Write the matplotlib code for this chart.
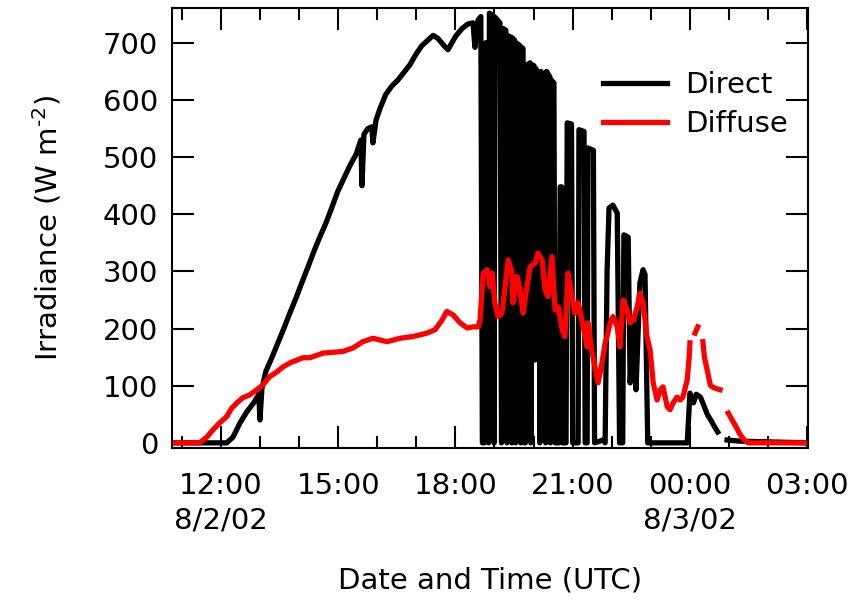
import numpy as np
import matplotlib
matplotlib.use("Agg")
import matplotlib.pyplot as plt

nan = np.nan

# time in decimal hours since 00:00 UTC on 8/2/02 (24 = 00:00 on 8/3/02)
direct_time = [10.75, 12.15, 12.31, 12.49, 12.67, 12.84, 12.97, 13.00, 13.05, 13.15,
               13.31, 13.46, 13.61, 13.77, 13.92, 14.07, 14.23, 14.38, 14.53, 14.69,
               14.84, 14.99, 15.15, 15.30, 15.46, 15.58, 15.61, 15.66, 15.76, 15.86,
               15.89, 15.97, 16.07, 16.22, 16.38, 16.53, 16.68, 16.84, 16.99, 17.14,
               17.30, 17.43, 17.55, 17.71, 17.81, 17.91, 18.01, 18.17, 18.32, 18.45,
               18.50, 18.58, 18.65, 18.69, 18.74, 18.77, 18.82, 18.85, 18.87, 18.96,
               18.99, 19.01, 19.14, 19.18, 19.23, 19.29, 19.32, 19.35, 19.42, 19.44,
               19.45, 19.51, 19.54, 19.56, 19.65, 19.67, 19.69, 19.73, 19.76, 19.79,
               19.82, 19.91, 19.93, 19.95, 20.01, 20.04, 20.06, 20.14, 20.16, 20.19,
               20.28, 20.31, 20.33, 20.42, 20.43, 20.45, 20.52, 20.55, 20.65, 20.68,
               20.72, 20.74, 20.83, 20.86, 20.97, 21.00, 21.14, 21.16, 21.29, 21.32,
               21.37, 21.39, 21.53, 21.56, 21.78, 21.83, 21.88, 21.93, 22.03, 22.14,
               22.20, 22.28, 22.31, 22.42, 22.47, 22.55, 22.62, 22.72, 22.80, 22.85,
               22.92, 23.93, 24.00, 24.09, 24.16, 24.27, 24.37, 24.45, 24.55, 24.63,
               24.71, 24.75, 24.95, 25.28, 27.02]
direct_vals = [0, 0, 10, 35, 55, 70, 85, 40, 95, 125,
               150, 175, 200, 228, 253, 280, 308, 335, 360, 385,
               412, 440, 463, 485, 505, 530, 450, 540, 550, 553,
               525, 565, 585, 610, 625, 635, 648, 662, 680, 695,
               705, 713, 708, 695, 688, 700, 712, 725, 733, 735,
               692, 740, 746, 0, 0, 700, 700, 0, 752, 748,
               0, 745, 735, 0, 725, 722, 0, 712, 710, 0,
               709, 705, 0, 700, 695, 0, 692, 690, 0, 0,
               661, 665, 0, 662, 660, 145, 655, 640, 0, 650,
               630, 0, 650, 640, 0, 635, 630, 0, 0, 448,
               448, 0, 0, 560, 558, 0, 0, 548, 545, 0,
               0, 516, 512, 0, 5, 0, 300, 411, 416, 402,
               0, 0, 364, 360, 105, 210, 93, 280, 303, 295,
               0, 0, 87, 70, 85, 80, 63, 49, 38, 28,
               19, nan, 5, 3, 0]

diffuse_time = [10.75, 11.46, 11.64, 11.80, 11.97, 12.15, 12.28, 12.41, 12.56, 12.74,
                12.92, 13.07, 13.25, 13.43, 13.59, 13.77, 13.95, 14.10, 14.28, 14.61,
                15.12, 15.38, 15.63, 15.89, 16.25, 16.58, 16.91, 17.27, 17.48, 17.66,
                17.78, 17.94, 18.12, 18.30, 18.45, 18.58, 18.63, 18.71, 18.81, 18.89,
                18.94, 19.01, 19.09, 19.19, 19.27, 19.35, 19.45, 19.47, 19.58, 19.65,
                19.73, 19.83, 19.91, 20.04, 20.11, 20.22, 20.29, 20.37, 20.47, 20.55,
                20.63, 20.73, 20.80, 20.88, 20.98, 21.06, 21.14, 21.27, 21.37, 21.39,
                21.50, 21.57, 21.65, 21.75, 21.83, 21.88, 21.96, 22.03, 22.14, 22.21,
                22.29, 22.39, 22.47, 22.55, 22.65, 22.72, 22.80, 22.90, 22.98, 23.06,
                23.16, 23.24, 23.31, 23.42, 23.49, 23.57, 23.67, 23.75, 23.82, 23.93,
                23.98, 24.00, 24.05, 24.13, 24.20, 24.24, 24.33, 24.37, 24.44, 24.52,
                24.57, 24.67, 24.77, 24.85, 24.98, 25.08, 25.18, 25.28, 25.39, 25.49,
                27.02]
diffuse_vals = [0, 0, 10, 23, 35, 46, 61, 70, 79, 84,
                93, 101, 116, 124, 133, 140, 145, 149, 149, 157,
                160, 166, 177, 183, 177, 183, 186, 192, 198, 215,
                230, 224, 210, 201, 203, 203, 215, 297, 303, 273,
                297, 245, 221, 227, 273, 320, 297, 245, 291, 268,
                227, 273, 308, 315, 332, 320, 268, 256, 326, 233,
                238, 198, 186, 297, 256, 227, 245, 203, 168, 210,
                157, 133, 105, 140, 175, 186, 210, 221, 203, 168,
                250, 233, 210, 215, 238, 262, 245, 186, 163, 105,
                75, 93, 98, 63, 58, 70, 80, 75, 80, 110,
                150, 175, nan, 192, 203, nan, 177, 150, 128, 101,
                98, 95, 93, nan, 52, 40, 28, 15, 5, 0,
                0]

xtick_pos = [12, 15, 18, 21, 24, 27]
xtick_labels = ["12:00\n8/2/02", "15:00", "18:00", "21:00", "00:00\n8/3/02", "03:00"]
ytick_pos = [0, 100, 200, 300, 400, 500, 600, 700]

plt.rcParams['font.family'] = ['DejaVu Sans']
plt.rcParams['mathtext.fontset'] = 'dejavusans'
FS = 21

W, H = 865, 609
fig = plt.figure(figsize=(W / 100, H / 100), dpi=100)
ax = fig.add_axes([172 / W, 1 - 448 / H, 636 / W, 440 / H])

ax.plot(direct_time, direct_vals, color='black', lw=3.8, label='Direct')
ax.plot(diffuse_time, diffuse_vals, color='red', lw=3.8, label='Diffuse')

ax.set_xlim(10.75, 27.02)
ax.set_ylim(-9, 761)

ax.set_xticks(xtick_pos)
ax.set_xticklabels(xtick_labels, fontsize=FS, linespacing=1.3)
ax.set_xticks(np.arange(11, 28, 1), minor=True)
ax.set_yticks(ytick_pos)
ax.set_yticklabels([str(v) for v in ytick_pos], fontsize=FS)

ax.tick_params(axis='both', which='major', direction='in', length=15.5, width=1.5,
               top=True, right=True)
ax.tick_params(axis='x', which='minor', direction='in', length=8.5, width=1.5,
               top=True, bottom=True)
ax.tick_params(axis='x', which='major', pad=17)
ax.tick_params(axis='y', which='major', pad=10)
for s in ax.spines.values():
    s.set_linewidth(1.5)

fig.text(490 / W, 1 - 580 / H, "Date and Time (UTC)", fontsize=FS,
         ha='center', va='center')
fig.text(47 / W, 1 - 228 / H, "Irradiance (W m$^{\\mathdefault{\u20102}}$)", fontsize=FS,
         ha='center', va='center', rotation=90)

ax.legend(loc='upper left', bbox_to_anchor=(0.6777, 0.857), frameon=False,
          fontsize=FS, handlelength=2.19, handletextpad=0.62, labelspacing=0.37,
          borderpad=0, borderaxespad=0)

fig.savefig("out.png", dpi=100)
